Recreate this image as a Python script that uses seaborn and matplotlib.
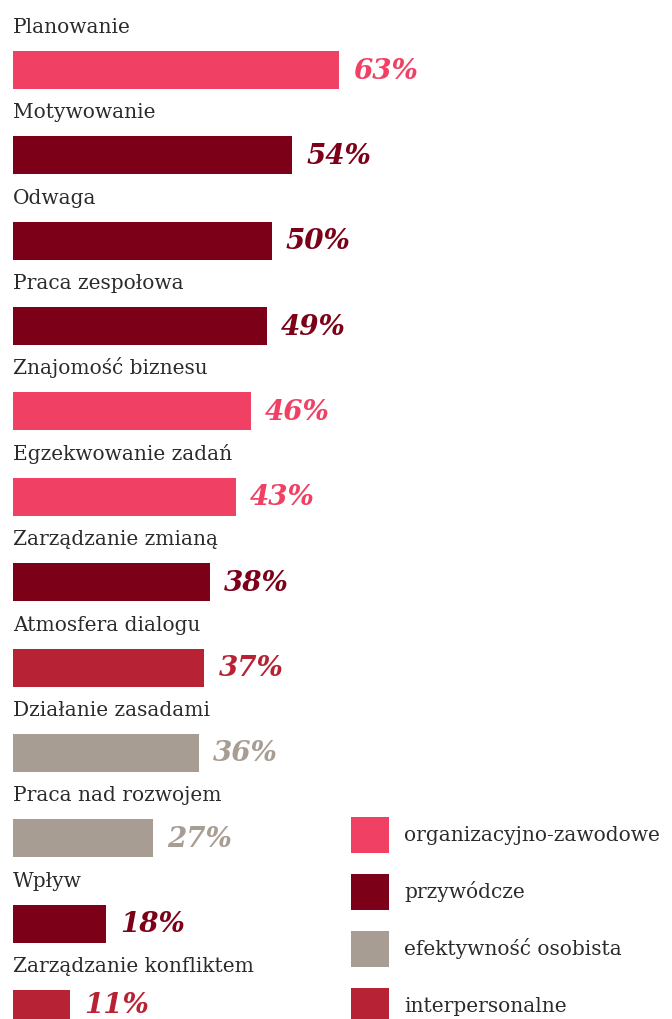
import matplotlib
matplotlib.use("Agg")
import matplotlib.pyplot as plt
import seaborn as sns
import pandas as pd

categories = ["Planowanie", "Motywowanie", "Odwaga", "Praca zespołowa", "Znajomość biznesu",
              "Egzekwowanie zadań", "Zarządzanie zmianą", "Atmosfera dialogu", "Działanie zasadami",
              "Praca nad rozwojem", "Wpływ", "Zarządzanie konfliktem"]
values = [63, 54, 50, 49, 46, 43, 38, 37, 36, 27, 18, 11]
groups = ["organizacyjno-zawodowe", "przywódcze", "przywódcze", "przywódcze", "organizacyjno-zawodowe",
          "organizacyjno-zawodowe", "przywódcze", "interpersonalne", "efektywność osobista",
          "efektywność osobista", "przywódcze", "interpersonalne"]
group_order = ["organizacyjno-zawodowe", "przywódcze", "efektywność osobista", "interpersonalne"]
group_colors = ["#F04064", "#7D0019", "#A89D93", "#B72234"]

palette = dict(zip(group_order, group_colors))
df = pd.DataFrame({"cat": categories, "val": values, "grp": groups})

sns.set_theme(style="white")
plt.rcParams["font.family"] = ["DejaVu Serif"]

fig = plt.figure(figsize=(6.72, 10.19), dpi=100)
ax = fig.add_axes([0, 0, 1, 1])

sns.barplot(data=df, x="val", y="cat", hue="grp", hue_order=group_order, palette=palette,
            order=categories, dodge=False, width=0.445, orient="h", ax=ax, saturation=1,
            linewidth=0)

pxu = 5.175
ax.set_xlim(-13 / pxu, (672 - 13) / pxu)
pitch = 85.36
top_off = 70
ax.set_ylim((1019 - top_off) / pitch, -top_off / pitch)
max_base = (1019 - 6 - top_off) / pitch

for i, (c, v, g) in enumerate(zip(categories, values, groups)):
    ax.text(0, i - 37 / pitch, c, ha="left", va="baseline", fontsize=14.5, color="#2b2b2b")
    ax.text(v + 14 / pxu, min(i + 8.5 / pitch, max_base), f"{v}%", ha="left", va="baseline",
            fontsize=20, fontweight="bold", fontstyle="italic", color=palette[g])

handles, labels = ax.get_legend_handles_labels()
leg = ax.legend(handles, labels, loc="upper left", bbox_to_anchor=(351 / 672, 1 - 817 / 1019),
                bbox_transform=fig.transFigure, frameon=False, fontsize=14.5,
                handlelength=1.9, handleheight=2.36, labelspacing=1.05, handletextpad=0.75,
                borderpad=0, borderaxespad=0)
for t in leg.get_texts():
    t.set_color("#2b2b2b")

ax.axis("off")
fig.savefig("out.png", dpi=100)
